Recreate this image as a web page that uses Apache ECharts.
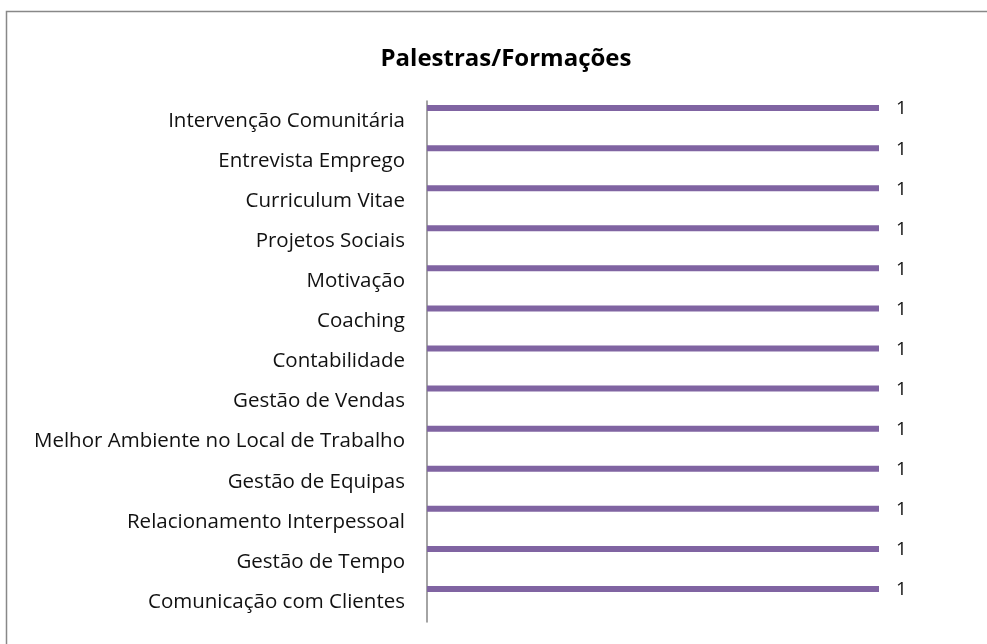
<!DOCTYPE html>
<html>
<head>
<meta charset="utf-8">
<script src="https://cdn.jsdelivr.net/npm/echarts@6/dist/echarts.min.js"></script>
<style>
  html, body { margin: 0; padding: 0; background: #fff; }
  #chart { width: 987px; height: 644px; }
</style>
</head>
<body>
<div id="chart"></div>
<script>
// categories, top to bottom as in the picture
var categories = [
  'Intervenção Comunitária',
  'Entrevista Emprego',
  'Curriculum Vitae',
  'Projetos Sociais',
  'Motivação',
  'Coaching',
  'Contabilidade',
  'Gestão de Vendas',
  'Melhor Ambiente no Local de Trabalho',
  'Gestão de Equipas',
  'Relacionamento Interpessoal',
  'Gestão de Tempo',
  'Comunicação com Clientes'
]
var values = [1, 1, 1, 1, 1, 1, 1, 1, 1, 1, 1, 1, 1]
// empty second series (keeps the bar off-centre like the original)
var emptyValues = ['-', '-', '-', '-', '-', '-', '-', '-', '-', '-', '-', '-', '-']

var FONT = 'Open Sans'

var chart = echarts.init(document.getElementById('chart'))
chart.setOption({
  animation: false,
  textStyle: { fontFamily: FONT },
  title: {
    text: 'Palestras/Formações',
    left: 501,
    textAlign: 'center',
    top: 42,
    textStyle: { fontFamily: FONT, fontSize: 24, fontWeight: 'bold', color: '#000' }
  },
  graphic: [
    {
      type: 'rect',
      shape: { x: 6.5, y: 11.5, width: 1000, height: 700 },
      style: { fill: 'none', stroke: '#888', lineWidth: 1.5 },
      silent: true
    }
  ],
  grid: { left: 427, right: 108, top: 101, bottom: 22 },
  xAxis: {
    type: 'value',
    min: 0,
    max: 1,
    show: false
  },
  yAxis: {
    type: 'category',
    inverse: true,
    data: categories,
    axisLine: { show: true, lineStyle: { color: '#868686', width: 1.5 } },
    axisTick: { show: false },
    axisLabel: { color: '#111', fontSize: 20.5, fontFamily: FONT, margin: 22 }
  },
  series: [
    {
      type: 'bar',
      data: values,
      barWidth: 6,
      barGap: '333%',
      itemStyle: { color: '#8064A2' },
      label: {
        show: true,
        position: 'right',
        distance: 17,
        offset: [0, 1],
        color: '#111',
        fontSize: 19,
        fontFamily: FONT
      }
    },
    {
      type: 'bar',
      data: emptyValues,
      barWidth: 6,
      itemStyle: { color: '#4F81BD' }
    }
  ]
})
</script>
</body>
</html>
